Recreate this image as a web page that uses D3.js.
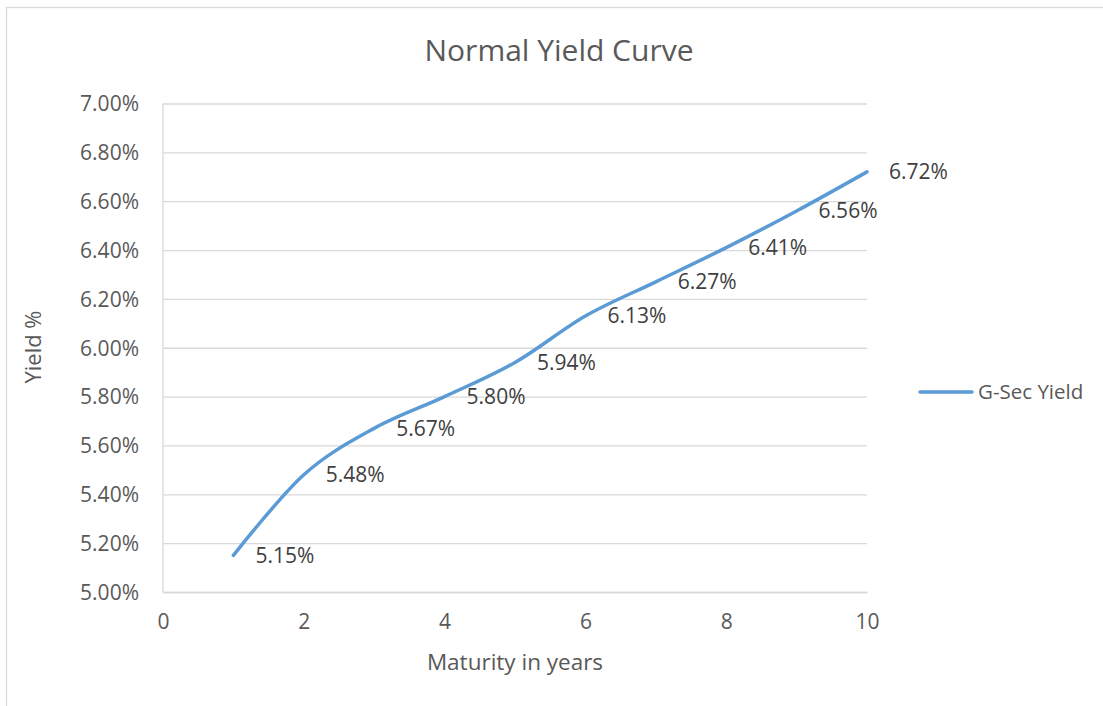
<!DOCTYPE html>
<html>
<head>
<meta charset="utf-8">
<script src="https://cdn.jsdelivr.net/npm/d3@7"></script>
<style>
  html, body { margin: 0; padding: 0; background: #fff; }
  svg { display: block; font-family: "Open Sans", sans-serif; }
</style>
</head>
<body>
<svg id="chart" width="1103" height="706"></svg>
<script>
const maturities = [1, 2, 3, 4, 5, 6, 7, 8, 9, 10];
const yields = [5.15, 5.48, 5.67, 5.80, 5.94, 6.13, 6.27, 6.41, 6.56, 6.72];
const xTicks = [0, 2, 4, 6, 8, 10];
const yTicks = [5.0, 5.2, 5.4, 5.6, 5.8, 6.0, 6.2, 6.4, 6.6, 6.8, 7.0];
const seriesName = "G-Sec Yield";
const chartTitle = "Normal Yield Curve";
const xTitle = "Maturity in years";
const yTitle = "Yield %";

const svg = d3.select("#chart");
const W = 1103, H = 706;
const plot = { left: 163, right: 867, top: 103.5, bottom: 592 };
const numSize = "21px";

// chart frame
svg.append("rect").attr("x", 6.5).attr("y", 7.5).attr("width", W).attr("height", H)
  .attr("fill", "#fff").attr("stroke", "#d9d9d9").attr("stroke-width", 1.3);

const x = d3.scaleLinear().domain([0, 10]).range([plot.left, plot.right]);
const y = d3.scaleLinear().domain([5.0, 7.0]).range([plot.bottom, plot.top]);

// gridlines + y labels
const yAxis = d3.axisLeft(y).tickValues(yTicks)
  .tickSize(-(plot.right - plot.left)).tickPadding(24)
  .tickFormat(d => d.toFixed(2) + "%");
const gy = svg.append("g").attr("transform", `translate(${plot.left},0)`).call(yAxis);
gy.select(".domain").remove();
gy.selectAll(".tick line").attr("stroke", "#d9d9d9").attr("stroke-width", 1.3);
gy.selectAll(".tick text").attr("fill", "#595959").style("font-size", numSize)
  .style("font-family", "Open Sans, sans-serif").attr("dy", "0.35em");

// left axis line
svg.append("line").attr("x1", plot.left).attr("x2", plot.left)
  .attr("y1", plot.top).attr("y2", plot.bottom)
  .attr("stroke", "#d9d9d9").attr("stroke-width", 1.3);

const xAxis = d3.axisBottom(x).tickValues(xTicks).tickSize(0).tickPadding(22)
  .tickFormat(d3.format("d"));
const gx = svg.append("g").attr("transform", `translate(0,${plot.bottom})`).call(xAxis);
gx.select(".domain").attr("stroke", "#d9d9d9").attr("stroke-width", 1.3);
gx.selectAll(".tick text").attr("fill", "#595959").style("font-size", numSize)
  .style("font-family", "Open Sans, sans-serif").attr("y", 30).attr("dy", "0.35em");

// line
const data = maturities.map((m, i) => ({ m, v: yields[i] }));
const line = d3.line().x(d => x(d.m)).y(d => y(d.v)).curve(d3.curveCatmullRom.alpha(0));
svg.append("path").datum(data).attr("d", line)
  .attr("fill", "none").attr("stroke", "#5b9bd5").attr("stroke-width", 3.5)
  .attr("stroke-linecap", "round");

// data labels
svg.append("g").selectAll("text").data(data).join("text")
  .attr("x", d => x(d.m) + 22).attr("y", d => y(d.v)).attr("dy", "0.35em")
  .attr("fill", "#404040").style("font-size", numSize)
  .text(d => d.v.toFixed(2) + "%");

// title
svg.append("text").attr("x", 559).attr("y", 50).attr("dy", "0.35em")
  .attr("text-anchor", "middle").attr("fill", "#595959").style("font-size", "30px")
  .text(chartTitle);

// axis titles
svg.append("text").attr("x", 515).attr("y", 662).attr("dy", "0.35em")
  .attr("text-anchor", "middle").attr("fill", "#595959").style("font-size", "22.5px")
  .text(xTitle);
svg.append("text").attr("transform", "translate(33,347) rotate(-90)").attr("dy", "0.35em")
  .attr("text-anchor", "middle").attr("fill", "#595959").style("font-size", "22px")
  .text(yTitle);

// legend
svg.append("line").attr("x1", 920).attr("x2", 972).attr("y1", 392).attr("y2", 392)
  .attr("stroke", "#5b9bd5").attr("stroke-width", 3.5).attr("stroke-linecap", "round");
svg.append("text").attr("x", 978).attr("y", 392).attr("dy", "0.35em")
  .attr("fill", "#595959").style("font-size", "20.5px").text(seriesName);
</script>
</body>
</html>
